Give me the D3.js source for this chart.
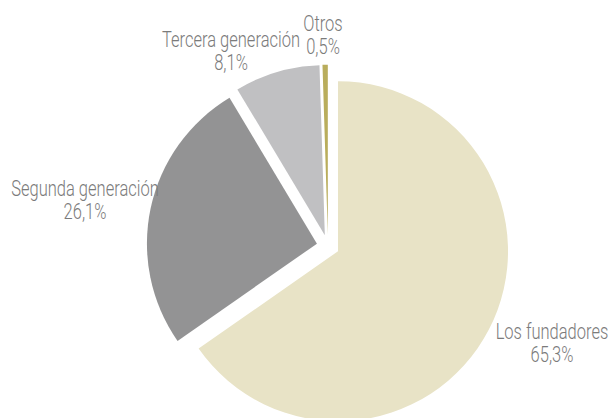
<!DOCTYPE html>
<html>
<head>
<meta charset="utf-8">
<script src="https://cdn.jsdelivr.net/npm/d3@7"></script>
<style>
  html, body { margin: 0; padding: 0; background: #ffffff; }
  svg { display: block; }
  text { font-family: Roboto, "Liberation Sans", sans-serif; font-weight: 300; fill: #7b7b7b; }
</style>
</head>
<body>
<svg id="chart" width="613" height="418"></svg>
<script>
const categories = ["Los fundadores", "Segunda generación", "Tercera generación", "Otros"];
const values = [65.3, 26.1, 8.1, 0.5];
const valueLabels = ["65,3%", "26,1%", "8,1%", "0,5%"];
const colors = ["#e8e3c6", "#939394", "#c0c0c2", "#b9ad5c"];

const W = 613, H = 418;
const cx = 328, cy = 246, R = 170, explode = 11.3;
const fontSize = 22, condense = 0.75;

const svg = d3.select("#chart");
const data = categories.map((c, i) => ({ name: c, value: values[i], label: valueLabels[i], color: colors[i] }));

const pie = d3.pie().sort(null).value(d => d.value).startAngle(0).endAngle(2 * Math.PI);
const arc = d3.arc().innerRadius(0).outerRadius(R);
const arcs = pie(data);

const g = svg.append("g").attr("transform", `translate(${cx},${cy})`);
g.selectAll("path").data(arcs).enter().append("path")
  .attr("d", arc)
  .attr("fill", d => d.data.color)
  .attr("transform", d => {
    const a = (d.startAngle + d.endAngle) / 2;
    return `translate(${explode * Math.sin(a)},${-explode * Math.cos(a)})`;
  });

// label anchor positions (center x, first-line baseline)
const labelPos = [[552, 339], [85, 196], [231, 47], [323, 31]];
const lineGap = 23;

arcs.forEach((d, i) => {
  const [lx, ly] = labelPos[i];
  [d.data.name, d.data.label].forEach((t, j) => {
    const txt = svg.append("text")
      .attr("x", lx).attr("y", ly + j * lineGap)
      .attr("text-anchor", "middle")
      .attr("font-size", fontSize)
      .text(t);
    const w = txt.node().getComputedTextLength();
    txt.attr("textLength", w * condense).attr("lengthAdjust", "spacingAndGlyphs");
  });
});
</script>
</body>
</html>
